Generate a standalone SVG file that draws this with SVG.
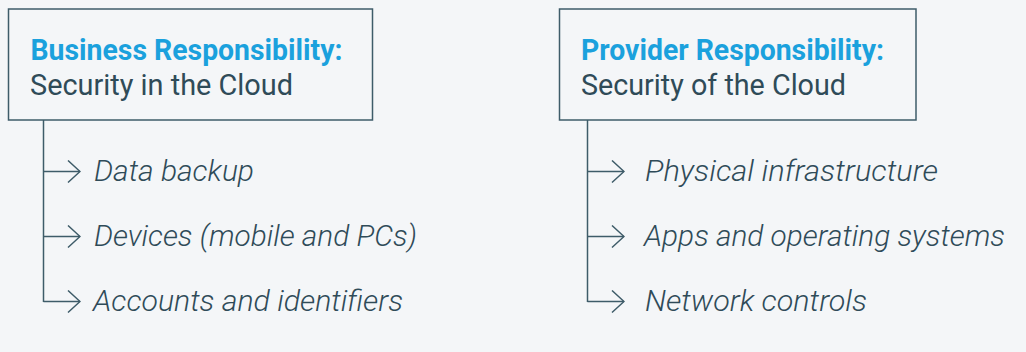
<svg xmlns="http://www.w3.org/2000/svg" width="1026" height="352" viewBox="0 0 1026 352">
<style>
.bg{fill:#f4f6f8}
.box{fill:#f4f6f8;stroke:#3e5c69;stroke-width:1.5}
.title{font-family:Roboto,"Liberation Sans",sans-serif;font-weight:700;font-size:29px;fill:#1ba1dd}
.sub{font-family:Roboto,"Liberation Sans",sans-serif;font-weight:400;font-size:29px;fill:#2f4b58}
.item{font-family:Roboto,"Liberation Sans",sans-serif;font-style:italic;font-weight:300;font-size:29px;fill:#2f4b58}
.ln{fill:none;stroke:#3e5c69;stroke-width:1.5}
</style>
<defs>
<marker id="chev" viewBox="0 0 14 24" refX="13" refY="12" markerWidth="14" markerHeight="24" markerUnits="userSpaceOnUse" orient="auto">
<path d="M1,1 L13,12 L1,23" fill="none" stroke="#3e5c69" stroke-width="1.5"/>
</marker>
</defs>
<rect class="bg" x="0" y="0" width="1026" height="352"/>
<g id="connectors">
<path class="ln" d="M43.5,120 V302"/>
<path class="ln" d="M43.5,171.5 H80" marker-end="url(#chev)"/>
<path class="ln" d="M43.5,236.5 H80" marker-end="url(#chev)"/>
<path class="ln" d="M43.5,301.5 H80" marker-end="url(#chev)"/>
<path class="ln" d="M587.5,120 V302"/>
<path class="ln" d="M587.5,171.5 H624" marker-end="url(#chev)"/>
<path class="ln" d="M587.5,236.5 H624" marker-end="url(#chev)"/>
<path class="ln" d="M587.5,301.5 H624" marker-end="url(#chev)"/>
</g>
<g id="business">
<rect class="box" x="8.5" y="9" width="364" height="111"/>
<text class="title" x="30.5" y="60" textLength="312" lengthAdjust="spacingAndGlyphs">Business Responsibility:</text>
<text class="sub" x="30" y="94.5" textLength="263" lengthAdjust="spacingAndGlyphs">Security in the Cloud</text>
</g>
<g id="provider">
<rect class="box" x="559.5" y="9" width="356.5" height="111"/>
<text class="title" x="581" y="60" textLength="303" lengthAdjust="spacingAndGlyphs">Provider Responsibility:</text>
<text class="sub" x="581" y="94.5" textLength="265" lengthAdjust="spacingAndGlyphs">Security of the Cloud</text>
</g>
<g id="b1"><text class="item" x="94" y="181" textLength="160" lengthAdjust="spacingAndGlyphs">Data backup</text></g>
<g id="b2"><text class="item" x="94" y="246" textLength="323" lengthAdjust="spacingAndGlyphs">Devices (mobile and PCs)</text></g>
<g id="b3"><text class="item" x="93" y="311" textLength="310" lengthAdjust="spacingAndGlyphs">Accounts and identifiers</text></g>
<g id="p1"><text class="item" x="645" y="181" textLength="293" lengthAdjust="spacingAndGlyphs">Physical infrastructure</text></g>
<g id="p2"><text class="item" x="644" y="246" textLength="361" lengthAdjust="spacingAndGlyphs">Apps and operating systems</text></g>
<g id="p3"><text class="item" x="645" y="311" textLength="222" lengthAdjust="spacingAndGlyphs">Network controls</text></g>
</svg>
